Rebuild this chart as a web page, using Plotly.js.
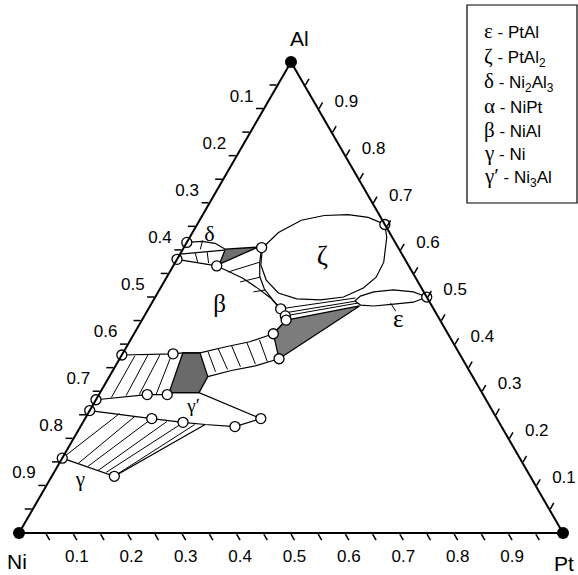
<!DOCTYPE html>
<html><head><meta charset="utf-8">
<script src="https://cdn.plot.ly/plotly-3.0.1.min.js"></script>
<style>html,body{margin:0;padding:0;background:#fff}</style>
</head><body><div id="chart" style="width:578px;height:575px"></div>
<script>
// All compositions are [Al, Pt] mole fractions; Ni = 1 - Al - Pt
const tickVals = [0.05,0.1,0.15,0.2,0.25,0.3,0.35,0.4,0.45,0.5,0.55,0.6,0.65,0.7,0.75,0.8,0.85,0.9,0.95];
const tickText = ['','0.9','','0.8','','0.7','','0.6','','0.5','','0.4','','0.3','','0.2','','0.1',''];

const vertexPts = [[1,0],[0,0],[0,1]];

const deltaTop = [[0.617,0],[0.619,0.027],[0.615,0.053],[0.6025,0.078]];
const deltaBottom = [[0.592,0],[0.6004,0.077]];
const deltaTies = [[[0.594,0.027],[0.575,0.041]],[[0.596,0.048],[0.573,0.062]]];
const betaTop = [[0.581,0],[0.567,0.080],[0.571,0.083]];
const grayTri = [[0.6025,0.078],[0.607,0.136],[0.571,0.083]];
const betaRight = [[0.567,0.080],[0.554,0.1105],[0.541,0.141],[0.522,0.175],[0.499,0.213],[0.484,0.232],[0.476,0.243],[0.461,0.259],[0.452,0.265],[0.423,0.256]];
const zetaOuter = [[0.607,0.136],[0.606,0.143],[0.575,0.155],[0.545,0.170],[0.518,0.192],[0.495,0.219],[0.476,0.243]];
const betaZetaTies = [[[0.554,0.107],[0.575,0.155]],[[0.533,0.140],[0.543,0.171]],[[0.512,0.175],[0.516,0.195]]];
const zetaLoop = [[0.605,0.145],[0.638,0.158],[0.664,0.187],[0.674,0.224],[0.676,0.267],[0.670,0.307],[0.655,0.345],
  [0.628,0.362],[0.575,0.383],[0.543,0.385],[0.520,0.373],[0.501,0.346],[0.495,0.307],[0.497,0.262],[0.5095,0.222],[0.537,0.186],[0.569,0.160],[0.605,0.145]];
const epsLens = [[0.4926,0.371],[0.503,0.376],[0.512,0.396],[0.516,0.430],[0.512,0.469],[0.501,0.499],
  [0.490,0.480],[0.486,0.446],[0.482,0.411],[0.484,0.386],[0.4926,0.371]];
const bandTies = [[[0.476,0.243],[0.499,0.369]],[[0.467,0.253],[0.4926,0.374]],[[0.461,0.259],[0.488,0.378]]];
const grayRight = [[0.452,0.265],[0.482,0.385],[0.370,0.293],[0.423,0.256]];
const betaBottom = [[0.378,0],[0.3805,0.093],[0.3826,0.110],[0.3826,0.1415],[0.395,0.181],[0.406,0.221],[0.423,0.256]];
const midBandBottom = [[0.332,0.181],[0.345,0.218],[0.355,0.257],[0.370,0.293]];
const midTies = [[[0.385,0.155],[0.3425,0.190]],[[0.393,0.169],[0.347,0.210]],[[0.397,0.1925],[0.353,0.2305]],[[0.404,0.217],[0.359,0.255]],[[0.410,0.237],[0.364,0.2745]]];
const grayPent = [[0.3826,0.110],[0.3826,0.1415],[0.332,0.181],[0.298,0.182],[0.298,0.127]];
const gammaPrimeTop = [[0.283,0],[0.294,0.0887],[0.294,0.1255],[0.298,0.127],[0.298,0.182],[0.243,0.323]];
const betaGpTies = [[[0.2875,0.026],[0.376,0.025]],[[0.2917,0.051],[0.378,0.048]],[[0.294,0.074],[0.378,0.070]],[[0.294,0.105],[0.3805,0.091]]];
const gammaPrimeBottom = [[0.260,0],[0.243,0.1226],[0.235,0.184],[0.2304,0.227],[0.226,0.284],[0.243,0.323]];
const gammaBoundary = [[0.159,0],[0.1205,0.115],[0.2304,0.227]];
const gGpTies = [[[0.159,0],[0.2537,0.058]],[[0.148,0.035],[0.2473,0.089]],[[0.1416,0.056],[0.243,0.1226]],
  [[0.133,0.079],[0.2368,0.1535]],[[0.129,0.096],[0.2325,0.183]],[[0.1226,0.116],[0.2304,0.208]]];
const leaders = [[[0.6215,0.027],[0.6025,0.032]],[[0.488,0.439],[0.471,0.457]]];

const openCircles = [[0.617,0],[0.581,0],[0.567,0.080],[0.606,0.143],[0.655,0.345],[0.501,0.499],
  [0.476,0.243],[0.461,0.259],[0.452,0.265],[0.423,0.256],[0.370,0.293],
  [0.378,0],[0.3805,0.093],[0.283,0],[0.260,0],[0.294,0.0887],[0.294,0.1255],
  [0.243,0.1226],[0.235,0.184],[0.226,0.284],[0.243,0.323],[0.159,0],[0.1205,0.115]];

const phaseLabels = ['δ','β','ζ','ε','γ′','γ'];
const phaseLabelPos = [[0.632,0.034],[0.482,0.128],[0.5835,0.266],[0.450,0.472],[0.266,0.188],[0.110,0.058]];
const phaseLabelSize = [22,25,27,25,19,21];

const legendSymbols = ['ε','ζ','δ','α','β','γ','γ′'];
const legendNames = ['PtAl','PtAl<sub>2</sub>','Ni<sub>2</sub>Al<sub>3</sub>','NiPt','NiAl','Ni','Ni<sub>3</sub>Al'];

function coords(pts){
  const a=[],b=[],c=[];
  pts.forEach(p=>{ if(p===null){a.push(null);b.push(null);c.push(null);} else {a.push(p[0]);c.push(p[1]);b.push(Math.max(0,1-p[0]-p[1]));}});
  return {a,b,c};
}
function lineTrace(pts, w){
  const k=coords(pts);
  return {type:'scatterternary',mode:'lines',a:k.a,b:k.b,c:k.c,line:{color:'black',width:w||1.2},hoverinfo:'skip',cliponaxis:false,connectgaps:false};
}
function segTrace(segs, w){
  const pts=[]; segs.forEach(s=>{pts.push(s[0],s[1],null);});
  return lineTrace(pts,w||1);
}
function fillTrace(pts,color){
  const k=coords(pts.concat([pts[0]]));
  return {type:'scatterternary',mode:'lines',a:k.a,b:k.b,c:k.c,fill:'toself',fillcolor:color,line:{color:'black',width:1.3},hoverinfo:'skip'};
}

const traces=[
  fillTrace(grayTri,'#6f6f6f'),
  fillTrace(grayRight,'#7c7c7c'),
  fillTrace(grayPent,'#6a6a6a'),
  lineTrace(deltaTop),lineTrace(deltaBottom),segTrace(deltaTies),lineTrace(betaTop),
  lineTrace(betaRight),lineTrace(zetaOuter),segTrace(betaZetaTies),lineTrace(zetaLoop),
  lineTrace(epsLens),segTrace(bandTies),lineTrace(betaBottom),lineTrace(midBandBottom),segTrace(midTies),
  lineTrace(gammaPrimeTop),segTrace(betaGpTies),lineTrace(gammaPrimeBottom),lineTrace(gammaBoundary),segTrace(gGpTies),
  segTrace(leaders,1)
];
(function(){
  const k=coords(openCircles);
  traces.push({type:'scatterternary',mode:'markers',a:k.a,b:k.b,c:k.c,cliponaxis:false,hoverinfo:'skip',
    marker:{size:10,color:'white',line:{color:'black',width:1.3}}});
  const v=coords(vertexPts);
  traces.push({type:'scatterternary',mode:'markers',a:v.a,b:v.b,c:v.c,cliponaxis:false,hoverinfo:'skip',
    marker:{size:12,color:'black'}});
  const t=coords(phaseLabelPos);
  traces.push({type:'scatterternary',mode:'text',a:t.a,b:t.b,c:t.c,text:phaseLabels,cliponaxis:false,hoverinfo:'skip',
    textfont:{family:'Liberation Serif',size:phaseLabelSize,color:'black'}});
})();

const NB='\u00a0';
function axis(kind){
  let txt=tickText;
  if(kind==='a') txt=tickText.map(s=>s? s+'<br>'+NB : '');
  if(kind==='c') txt=tickText.map(s=>s? NB+NB+s : '');
  return {tickmode:'array',tickvals:tickVals,ticktext:txt,ticks:'outside',ticklen:7,tickwidth:1.5,tickcolor:'black',
    linecolor:'black',linewidth:2,showgrid:false,tickfont:{family:'Liberation Sans',size:17,color:'black'},title:{text:''}};
}
const L=19,R=15,T=61,B=41,W=578-L-R,H=575-T-B;
function px(x){return (x-L)/W;} function py(y){return 1-(y-T)/H;}

const vfont={family:'Liberation Sans',size:21,color:'black'};
const annotations=[
  {text:'Al',x:px(299),y:py(39),xref:'paper',yref:'paper',xanchor:'center',yanchor:'middle',showarrow:false,font:vfont},
  {text:'Ni',x:px(17),y:py(561),xref:'paper',yref:'paper',xanchor:'center',yanchor:'middle',showarrow:false,font:vfont},
  {text:'Pt',x:px(564),y:py(563),xref:'paper',yref:'paper',xanchor:'center',yanchor:'middle',showarrow:false,font:vfont}
];
const legendY=[31,57,82,106,130,153,177];
legendSymbols.forEach((s,i)=>{
  annotations.push({xref:'paper',yref:'paper',x:px(482),y:py(legendY[i]),xanchor:'left',yanchor:'middle',showarrow:false,align:'left',
    text:'<span style="font-family:Liberation Serif;font-size:21px">'+s+'</span> - '+legendNames[i],
    font:{family:'Liberation Sans',size:17,color:'black'}});
});

const layout={
  width:578,height:575,margin:{l:L,r:R,t:T,b:B},paper_bgcolor:'white',showlegend:false,
  ternary:{sum:1,bgcolor:'white',aaxis:axis('a'),baxis:axis('b'),caxis:axis('c')},
  annotations:annotations,
  shapes:[{type:'rect',xref:'paper',yref:'paper',x0:px(467),x1:px(577),y0:py(203),y1:py(5),line:{color:'black',width:1.2},fillcolor:'white',layer:'below'}]
};
Plotly.newPlot('chart',traces,layout,{displayModeBar:false,staticPlot:true});
</script></body></html>
